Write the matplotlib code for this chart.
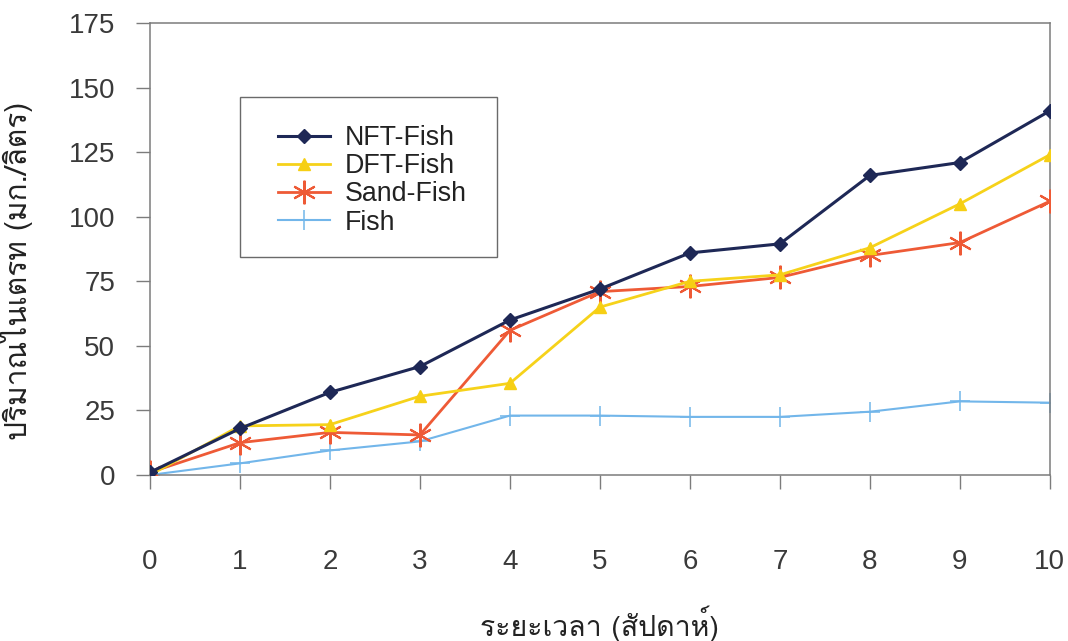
import matplotlib
matplotlib.use("Agg")
import matplotlib.pyplot as plt
from matplotlib.patches import Rectangle

# Nitrate concentration (mg/L) over ten weeks for four culture systems
weeks = [0, 1, 2, 3, 4, 5, 6, 7, 8, 9, 10]
nft_fish = [1, 18, 32, 42, 60, 72, 86, 89.5, 116, 121, 141]
dft_fish = [0, 19, 19.5, 30.5, 35.5, 65, 75, 77.5, 88, 105, 124]
sand_fish = [1, 12.5, 16.5, 15.5, 56, 71, 73, 76.5, 85, 90, 106]
fish_only = [0, 4.5, 9.5, 13, 23, 23, 22.5, 22.5, 24.5, 28.5, 28]
series_names = ["NFT-Fish", "DFT-Fish", "Sand-Fish", "Fish"]
yticks = [0, 25, 50, 75, 100, 125, 150, 175]

xlabel = "ระยะเวลา (สัปดาห์)"
ylabel = "ปริมาณไนเตรท (มก./ลิตร)"

LATIN = ["Liberation Sans", "DejaVu Sans"]
THAI = ["Loma", "Noto Sans Thai Looped", "Liberation Sans", "DejaVu Sans"]
plt.rcParams["font.family"] = LATIN

SPINE = "#7c7c7c"
TEXT = "#3a3a3a"

fig = plt.figure(figsize=(10.68, 6.41), dpi=100)
ax = fig.add_axes([0.1404, 0.259, 0.8426, 0.705])

ax.plot(weeks, nft_fish, color="#1e2856", lw=2.2, marker="D", ms=7,
        mfc="#1e2856", mec="#1e2856", label=series_names[0], zorder=5)
ax.plot(weeks, dft_fish, color="#f6d21a", lw=2.0, marker="^", ms=9,
        mfc="#f6cf14", mec="#f6cf14", label=series_names[1], zorder=4)
ax.plot(weeks, sand_fish, color="#ee5a36", lw=2.0, marker=(6, 2, 0), ms=17,
        mew=1.5, mec="#ee5a36", label=series_names[2], zorder=3)
ax.plot(weeks, fish_only, color="#72b6ea", lw=1.5, marker="+", ms=15,
        mew=1.1, mec="#72b6ea", label=series_names[3], zorder=2)

ax.set_xlim(0, 10)
ax.set_ylim(0, 175)
ax.set_xticks(weeks)
ax.set_yticks(yticks)

for s in ax.spines.values():
    s.set_color(SPINE)
    s.set_linewidth(1.1)

ax.tick_params(axis="both", direction="out", length=10, width=1.0,
               color=SPINE, labelcolor=TEXT, labelsize=20)
ax.tick_params(axis="x", pad=43)
ax.tick_params(axis="y", pad=15)
for lab in ax.get_xticklabels() + ax.get_yticklabels():
    lab.set_fontfamily(LATIN)

ax.set_xlabel(xlabel, fontsize=20.5, family=THAI, color="#222222")
ax.xaxis.set_label_coords(0.5, -0.288)
ax.set_ylabel(ylabel, fontsize=21.5, family=THAI, color="#222222")
ax.yaxis.set_label_coords(-0.13, 0.451)

# legend frame drawn as a plain box, entries placed inside it
ax.add_patch(Rectangle((0.1, 0.482), 0.2856, 0.354, transform=ax.transAxes,
                       facecolor="white", edgecolor="#6a6a6a", lw=1.0,
                       zorder=6))
leg = ax.legend(loc="upper left", bbox_to_anchor=(0.142, 0.774),
                borderaxespad=0, borderpad=0, frameon=False,
                prop={"family": LATIN, "size": 19.3},
                handlelength=1.94, handletextpad=0.56, labelspacing=0.08)
leg.set_zorder(7)
for t in leg.get_texts():
    t.set_color("#222222")

fig.savefig("out.png", dpi=100)
